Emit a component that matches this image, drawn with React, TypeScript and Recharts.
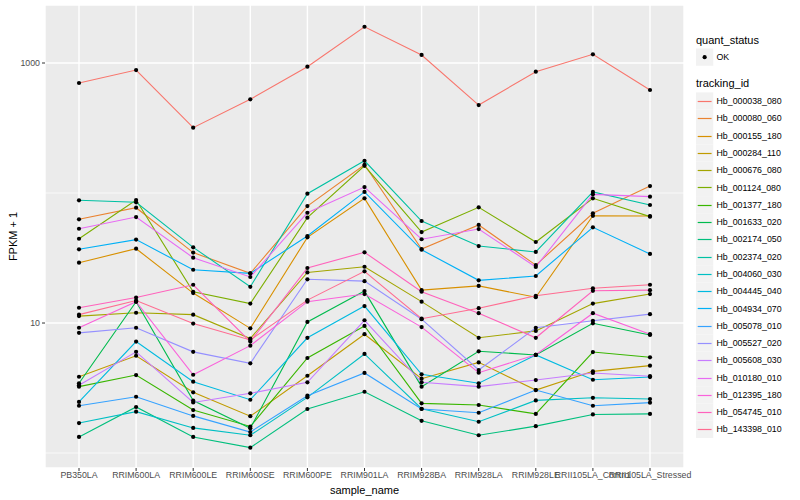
import { LineChart, Line, XAxis, YAxis, CartesianGrid } from "recharts";

const categories = [
  "PB350LA", "RRIM600LA", "RRIM600LE", "RRIM600SE", "RRIM600PE", "RRIM901LA",
  "RRIM928BA", "RRIM928LA", "RRIM928LE", "RRII105LA_Control", "RRII105LA_Stressed",
];

const trackingIds = [
  "Hb_000038_080", "Hb_000080_060", "Hb_000155_180", "Hb_000284_110", "Hb_000676_080",
  "Hb_001124_080", "Hb_001377_180", "Hb_001633_020", "Hb_002174_050", "Hb_002374_020",
  "Hb_004060_030", "Hb_004445_040", "Hb_004934_070", "Hb_005078_010", "Hb_005527_020",
  "Hb_005608_030", "Hb_010180_010", "Hb_012395_180", "Hb_054745_010", "Hb_143398_010",
];

// ggplot hue palette, 20 levels
const colors = [
  "#F8766D", "#EA8331", "#D89000", "#C09B00", "#A3A500", "#7CAE00", "#39B600", "#00BB4E",
  "#00BF7D", "#00C1A3", "#00BFC4", "#00BAE0", "#00B0F6", "#35A2FF", "#9590FF", "#C77CFF",
  "#E76BF3", "#FA62DB", "#FF62BC", "#FF6C91",
];

// FPKM + 1 per sample, same order as categories
const hb000038_080 = [702, 883, 318, 526, 937, 1900, 1153, 475, 857, 1166, 620];
const hb000080_060 = [62.8, 77.1, 34.8, 24.1, 79.4, 165, 37.1, 56.8, 27.9, 69.8, 113];
const hb000155_180 = [29.1, 37.3, 17.0, 9.1, 45.6, 91.0, 17.9, 19.3, 15.8, 66.8, 66.5];
const hb000284_110 = [3.86, 5.6, 2.93, 1.92, 3.93, 8.2, 3.73, 4.98, 3.05, 4.25, 4.7];
const hb000676_080 = [11.3, 12.0, 11.6, 7.6, 24.5, 27.1, 14.6, 7.7, 8.7, 14.1, 16.7];
const hb001124_080 = [44.5, 88.3, 17.4, 14.1, 64.6, 162, 50.1, 77.6, 42.0, 91.0, 65.8];
const hb001377_180 = [3.24, 3.98, 2.14, 1.6, 5.38, 9.5, 2.41, 2.34, 2.0, 5.98, 5.45];
const hb001633_020 = [3.44, 14.6, 2.53, 1.55, 10.2, 17.6, 3.24, 6.06, 5.68, 9.95, 8.1];
const hb002174_050 = [1.33, 2.26, 1.33, 1.10, 2.18, 2.96, 1.77, 1.37, 1.61, 1.98, 2.0];
const hb002374_020 = [87.9, 84.8, 38.2, 19.0, 98.8, 177, 60.9, 39.1, 35.2, 102, 80.9];
const hb004060_030 = [1.70, 2.08, 1.56, 1.37, 2.68, 5.78, 2.19, 1.74, 2.54, 2.66, 2.60];
const hb004445_040 = [2.47, 7.2, 3.54, 2.57, 7.7, 13.5, 4.03, 3.44, 5.68, 3.66, 3.84];
const hb004934_070 = [36.9, 43.8, 25.7, 24.1, 46.7, 102, 36.6, 21.3, 23.0, 54.5, 34.0];
const hb005078_010 = [2.31, 2.71, 1.93, 1.45, 2.76, 4.13, 2.18, 2.04, 3.05, 2.31, 2.44];
const hb005527_020 = [8.4, 9.2, 6.0, 4.9, 21.7, 21.0, 10.7, 4.35, 9.2, 10.4, 11.7];
const hb005608_030 = [3.32, 6.0, 2.45, 2.88, 3.5, 10.5, 3.5, 3.24, 3.64, 4.13, 3.9];
const hb010180_010 = [53.1, 65.3, 31.8, 22.6, 70.5, 111, 44.1, 52.8, 27.0, 97.7, 93.8];
const hb012395_180 = [9.2, 14.6, 4.0, 6.7, 14.6, 16.7, 9.3, 4.15, 5.7, 11.9, 8.2];
const hb054745_010 = [13.1, 15.7, 19.7, 7.2, 26.5, 35.0, 17.4, 11.9, 7.7, 17.7, 17.9];
const hb143398_010 = [11.6, 14.9, 9.9, 7.4, 15.0, 25.0, 10.8, 13.0, 16.2, 18.5, 19.7];

const seriesValues = [
  hb000038_080, hb000080_060, hb000155_180, hb000284_110, hb000676_080,
  hb001124_080, hb001377_180, hb001633_020, hb002174_050, hb002374_020,
  hb004060_030, hb004445_040, hb004934_070, hb005078_010, hb005527_020,
  hb005608_030, hb010180_010, hb012395_180, hb054745_010, hb143398_010,
];

const yTicks = [10, 1000];
const yMinor = [1, 100];

const data = categories.map((name, i) => {
  const row: Record<string, string | number> = { sample_name: name };
  trackingIds.forEach((id, s) => { row[id] = seriesValues[s][i]; });
  return row;
});

const font = "'Liberation Sans', Arial, Helvetica, sans-serif";
const KEY = 17.28;

// legend drawn as svg so every key line gets the same crisp 1px-ish stroke
function LegendPanel() {
  return (
    <svg style={{ position: "absolute", left: 690, top: 0 }} width={110} height={460} fontFamily={font}>
      <text x={6} y={44} fontSize={11} fill="#000">quant_status</text>
      <rect x={6} y={48.5} width={KEY} height={KEY} fill="#F2F2F2" />
      <circle cx={6 + KEY / 2} cy={48.5 + KEY / 2} r={2.1} fill="#000" />
      <text x={26.5} y={60.3} fontSize={8.8} fill="#000">OK</text>
      <text x={6} y={87} fontSize={11} fill="#000">tracking_id</text>
      {trackingIds.map((id, i) => {
        const top = 92.4 + i * KEY;
        const mid = Math.round(top + KEY / 2) + 0.5;
        return (
          <g key={id}>
            <rect x={6} y={top} width={KEY} height={KEY} fill="#F2F2F2" />
            <line x1={7.7} x2={6 + KEY - 1.7} y1={mid} y2={mid} stroke={colors[i]} strokeWidth={1.2} />
            <text x={26.5} y={top + KEY / 2 + 3.1} fontSize={8.8} fill="#000">{id}</text>
          </g>
        );
      })}
    </svg>
  );
}

export default function App() {
  return (
    <div style={{ position: "absolute", left: 0, top: 0, width: 800, height: 500, background: "#fff" }}>
      <LineChart width={800} height={500} data={data} margin={{ top: 5, right: 116, left: 0, bottom: 0 }}>
        <CartesianGrid fill="#EBEBEB" stroke="#FFFFFF" strokeWidth={1.4} />
        <CartesianGrid horizontalValues={yMinor} vertical={false} stroke="#FFFFFF" strokeWidth={0.7} fill="none" />
        <XAxis
          dataKey="sample_name"
          type="category"
          scale="point"
          padding={{ left: 34, right: 34 }}
          interval={0}
          height={32}
          axisLine={false}
          tickSize={3}
          tickMargin={1}
          tickLine={{ stroke: "#333333" }}
          tick={{ fill: "#4D4D4D", fontSize: 8.8, fontFamily: font }}
          label={{ value: "sample_name", position: "insideBottom", offset: 6, fill: "#000", fontSize: 11, fontFamily: font }}
        />
        <YAxis
          type="number"
          scale="log"
          domain={[0.767, 2794]}
          allowDataOverflow
          ticks={yTicks}
          width={45}
          axisLine={false}
          tickSize={3}
          tickMargin={2}
          tickLine={{ stroke: "#333333" }}
          tick={{ fill: "#4D4D4D", fontSize: 8.8, fontFamily: font }}
          tickFormatter={(v) => String(v)}
          label={{ value: "FPKM + 1", angle: -90, position: "insideLeft", offset: 13, fill: "#000", fontSize: 11, fontFamily: font, style: { textAnchor: "middle" } }}
        />
        {trackingIds.map((id, i) => (
          <Line key={id} dataKey={id} stroke={colors[i]} strokeWidth={1.1} dot={false} activeDot={false} isAnimationActive={false} />
        ))}
        {trackingIds.map((id) => (
          <Line key={id + "_pt"} dataKey={id} stroke="none" dot={{ r: 2.1, fill: "#000", stroke: "none" }} activeDot={false} legendType="none" isAnimationActive={false} />
        ))}
      </LineChart>
      <LegendPanel />
    </div>
  );
}
